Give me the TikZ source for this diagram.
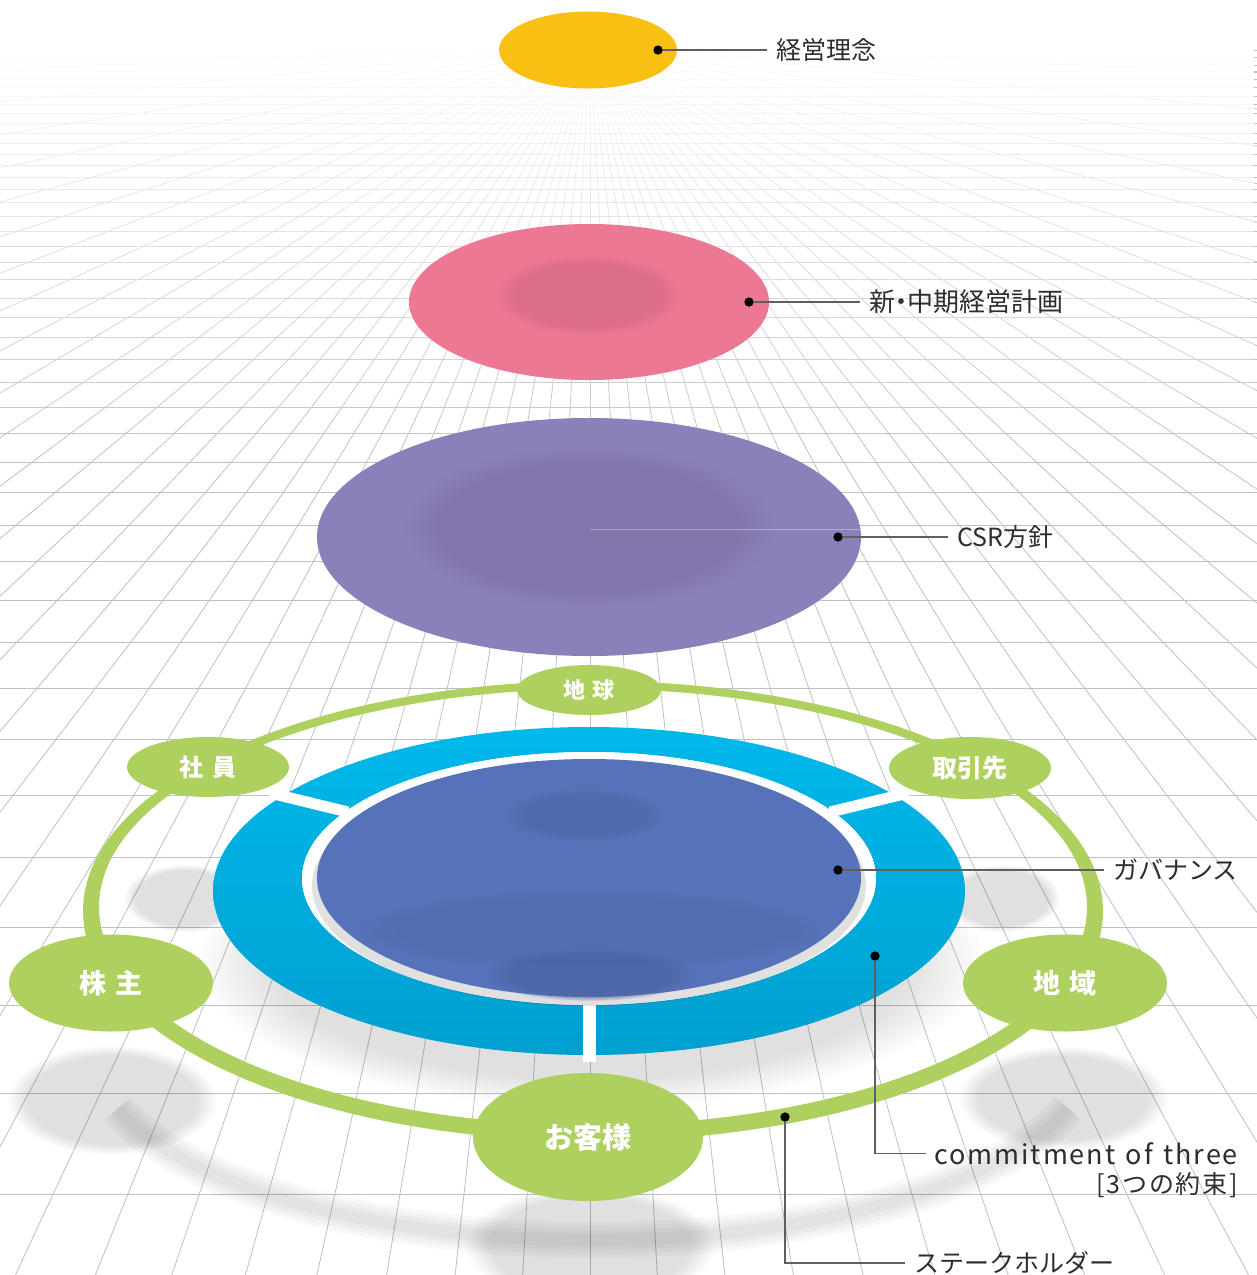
\documentclass[tikz,border=0pt]{standalone}
\usepackage{fontspec}
\setmainfont{Noto Sans CJK JP}
\usetikzlibrary{fadings,shapes.geometric}
\definecolor{gridc}{RGB}{192,192,192}
\definecolor{yel}{RGB}{249,192,20}
\definecolor{pnk}{RGB}{236,120,148}
\definecolor{pnkd}{RGB}{221,111,141}
\definecolor{pur}{RGB}{140,128,186}
\definecolor{purd}{RGB}{130,118,172}
\definecolor{dblue}{RGB}{86,115,185}
\definecolor{dblued}{RGB}{76,100,165}
\definecolor{cyanr}{RGB}{0,184,234}
\definecolor{cyand}{RGB}{0,160,208}
\definecolor{grn}{RGB}{174,208,94}
\definecolor{txt}{RGB}{45,45,45}
\definecolor{lead}{RGB}{95,95,95}
\tikzfading[name=topfade, top color=transparent!0, bottom color=transparent!100]
\tikzset{
  gridline/.style={draw=gridc, line width=0.8pt},
  softshadow/.style={fill=black, fill opacity=0.12, path fading=circle with fuzzy edge 20 percent},
  blob/.style={path fading=circle with fuzzy edge 20 percent},
  gnode/.style={ellipse, fill=grn, inner sep=0pt, text=white, font=\bfseries},
  disc/.style={ellipse, inner sep=0pt},
  dotmark/.style={circle, fill=black, inner sep=0pt, minimum size=9pt},
  leader/.style={draw=lead, line width=1.2pt},
  lbl/.style={anchor=west, inner xsep=9pt, inner ysep=0pt, text=txt, font=\fontsize{25}{30}\selectfont}
}
\begin{document}
\begin{tikzpicture}[x=1pt,y=-1pt]
\useasboundingbox (0,0) rectangle (1257,1275);
% ---------- grid
\begin{scope}
\clip (0,0) rectangle (1257,1275);
\fill[white] (0,0) rectangle (1257,1275);
\foreach \yy in {50,57,65,71,79,87,96,104,113,123,133,143,154,165,177,189,202,216,231,246,262,279,298,317,337,359,382,407,433,462,492,525,561,600,642,688,739,795,857,927,1005,1093,1194}
  \draw[gridline] (0,\yy) -- (1257,\yy);
\foreach \k in {-28,...,28}
  \draw[gridline] (590,45) -- ++({90+3.13*\k}:2600);
\fill[white] (0,0) rectangle (1257,42);
\fill[white, path fading=topfade] (0,41) rectangle (1257,470);
\end{scope}
% ---------- shadows
\fill[softshadow] (590,962) ellipse [x radius=395, y radius=145];
\fill[softshadow] (185,898) ellipse [x radius=62, y radius=34];
\fill[softshadow] (1002,898) ellipse [x radius=58, y radius=34];
\fill[softshadow] (112,1100) ellipse [x radius=105, y radius=55];
\fill[softshadow] (1063,1098) ellipse [x radius=105, y radius=52];
\fill[softshadow] (590,1245) ellipse [x radius=125, y radius=60];
\foreach \w in {36,28,20,12}
  \draw[black, opacity=0.028, line width=\w pt] (593,1050) ++(162:500 and 190) arc[start angle=162, end angle=18, x radius=500, y radius=190];
% ---------- stakeholder ring
\fill[grn, even odd rule] (593,911) ellipse [x radius=510, y radius=230] (593,907) ellipse [x radius=494, y radius=218];
\node[gnode, minimum width=144pt, minimum height=50pt, font=\bfseries\fontsize{22}{24}\selectfont] (chikyu) at (589,690) {地\hspace{0.35em}球};
\node[gnode, minimum width=162pt, minimum height=60pt, font=\bfseries\fontsize{24}{26}\selectfont] (shain) at (208,767) {社\hspace{0.35em}員};
\node[gnode, minimum width=162pt, minimum height=62pt, font=\bfseries\fontsize{25}{27}\selectfont] (torihiki) at (970,768) {取引先};
\node[gnode, minimum width=204pt, minimum height=97pt, font=\bfseries\fontsize{27}{29}\selectfont] (kabunushi) at (111,983) {株\hspace{0.35em}主};
\node[gnode, minimum width=204pt, minimum height=97pt, font=\bfseries\fontsize{27}{29}\selectfont] (chiiki) at (1065,983) {地\hspace{0.35em}域};
\node[gnode, minimum width=230pt, minimum height=128pt, font=\bfseries\fontsize{29}{31}\selectfont] (okyaku) at (588,1137) {お客様};
% ---------- commitment ring
\path[shade, top color=cyanr, middle color=cyanr!80!cyand, bottom color=cyand, even odd rule]
  (589,891) ellipse [x radius=376, y radius=164] (589,878.5) ellipse [x radius=287, y radius=126.5];
\draw[white, line width=11pt] (270,793) -- (348,812);
\draw[white, line width=11pt] (908,793) -- (830,812);
\draw[white, line width=13pt] (589,998) -- (589,1062);
\fill[white] (589,878.5) ellipse [x radius=287, y radius=126.5];
\fill[black, opacity=0.12] (589,886) ellipse [x radius=277, y radius=120];
\node[disc, fill=dblue, minimum width=544pt, minimum height=238pt] (gov) at (589,878) {};
\fill[dblued, blob, opacity=0.55] (585,815) ellipse [x radius=78, y radius=26];
\fill[dblued, blob, opacity=0.4] (590,930) ellipse [x radius=230, y radius=40];
\fill[dblued, blob, opacity=0.7] (590,975) ellipse [x radius=105, y radius=26];
% ---------- upper discs
\node[disc, fill=pur, minimum width=544pt, minimum height=238pt] (csr) at (589,537) {};
\fill[purd, blob] (589,527) ellipse [x radius=185, y radius=80];
\draw[white, opacity=0.35, line width=0.6pt] (590,529) -- (860,529);
\node[disc, fill=pnk, minimum width=360pt, minimum height=156pt] (plan) at (589,302) {};
\fill[pnkd, blob] (588,295) ellipse [x radius=92, y radius=40];
\node[disc, fill=yel, minimum width=178pt, minimum height=77pt] (rinen) at (588,50) {};
% ---------- dots and labels
\node[dotmark] (d1) at (658,50) {};
\node[dotmark] (d2) at (749,302) {};
\node[dotmark] (d3) at (838,537) {};
\node[dotmark] (d4) at (838,870) {};
\node[dotmark] (d5) at (875,956) {};
\node[dotmark] (d6) at (785,1117) {};
\node[lbl] (l1) at (767,50) {経営理念};
\node[lbl, font=\fontsize{26}{30}\selectfont] (l2) at (860,302) {新\kern-0.26em・\kern-0.26em中期経営計画};
\node[lbl] (l3) at (948,537) {CSR方針};
\node[lbl] (l4) at (1104,870) {ガバナンス};
\node[anchor=base east, inner xsep=8pt, inner ysep=0pt, text=txt, font=\fontsize{27}{30}\selectfont\addfontfeatures{LetterSpace=7}] (l5) at (1246,1164) {commitment\hspace{0.1em} of\hspace{0.1em} three};
\node[anchor=base east, inner sep=0pt, text=txt, font=\fontsize{25}{30}\selectfont\addfontfeatures{LetterSpace=7}] (l5b) at (1238,1193) {[3つの約束]};
\node[lbl] (l6) at (905,1263) {ステークホルダー};
\draw[leader] (d1.center) -- (l1.west);
\draw[leader] (d2.center) -- (l2.west);
\draw[leader] (d3.center) -- (l3.west);
\draw[leader] (d4.center) -- (l4.west);
\draw[leader] (d5.center) |- (l5.west);
\draw[leader] (d6.center) |- (l6.west);
\foreach \d in {d1,d2,d3,d4,d5,d6} \node[dotmark] at (\d) {};
\end{tikzpicture}
\end{document}
